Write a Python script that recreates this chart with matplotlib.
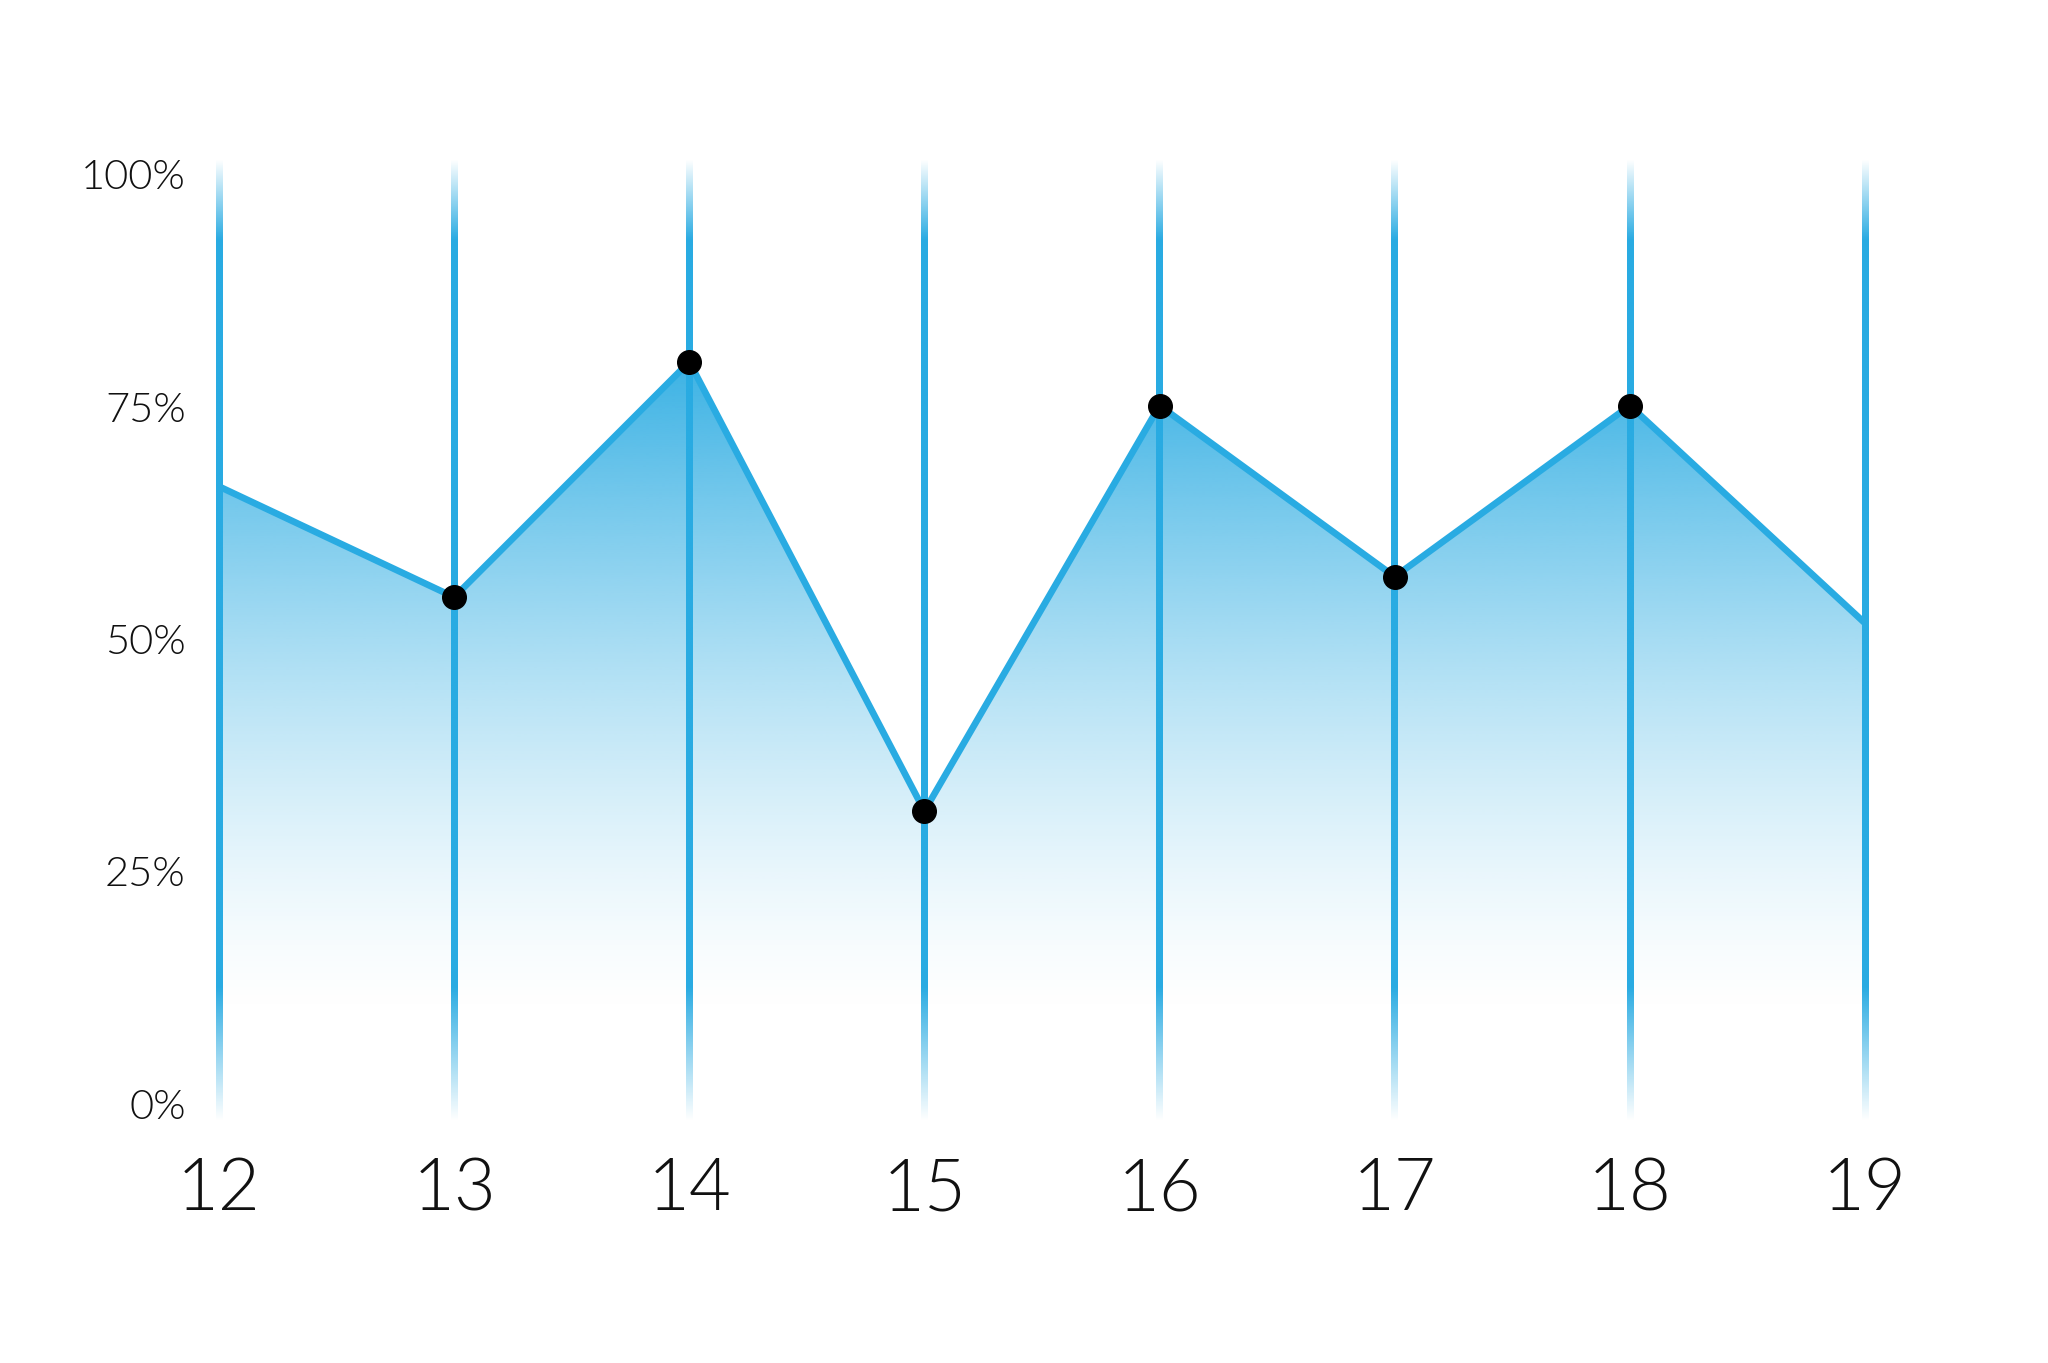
import numpy as np
import matplotlib
matplotlib.use("Agg")
import matplotlib.pyplot as plt
from matplotlib.colors import to_rgb

# ---- data ----
ages = [12, 13, 14, 15, 16, 17, 18, 19]
values = [0.664, 0.545, 0.798, 0.315, 0.751, 0.567, 0.751, 0.517]
marked = [False, True, True, True, True, True, True, False]
y_ticks = [0, 0.25, 0.5, 0.75, 1.0]
y_tick_labels = ["0%", "25%", "50%", "75%", "100%"]
x_tick_labels = ["12", "13", "14", "15", "16", "17", "18", "19"]

BLUE = "#29abe2"
rgb = np.array(to_rgb(BLUE))

plt.rcParams['font.family'] = ['Lato', 'DejaVu Sans']

W, H = 2048, 1363
fig = plt.figure(figsize=(W/100, H/100), dpi=100)
x0_px, x1_px, ytop_px, ybot_px = 219, 1865, 174, 1104
ax = fig.add_axes([x0_px/W, 1 - ybot_px/H, (x1_px-x0_px)/W, (ybot_px-ytop_px)/H])
ax.set_xlim(ages[0], ages[-1])
ax.set_ylim(0, 1)
for s in ax.spines.values():
    s.set_visible(False)

# gradient fill under the line
poly = ax.fill_between(ages, values, 0, color='none', lw=0)
ymax = max(values)
n = 512
yy = np.linspace(0, ymax, n)
t = np.clip((yy - 0.09) / (ymax - 0.09), 0, 1)
alpha = 0.92 * t ** 1.45
img = np.zeros((n, 2, 4))
img[..., :3] = rgb
img[..., 3] = alpha[:, None]
im = ax.imshow(img, extent=[ages[0], ages[-1], 0, ymax], origin='lower',
               aspect='auto', interpolation='bilinear', zorder=1)
im.set_clip_path(poly.get_paths()[0], transform=ax.transData)

# vertical fading lines (rendered as narrow gradient images)
px_per_unit = (x1_px - x0_px) / (ages[-1] - ages[0])
half_w = 3.3 / px_per_unit
y_lo, y_hi = -0.018, 1.016
vy = np.linspace(y_lo, y_hi, 600)
a_bot = np.clip((vy - y_lo) / (0.125 - y_lo), 0, 1)
a_top = np.clip((y_hi - vy) / (y_hi - 0.93), 0, 1)
va = np.minimum(a_bot, a_top)
vimg = np.zeros((len(vy), 1, 4))
vimg[..., :3] = rgb
vimg[..., 3] = va[:, None]
for x in ages:
    ax.imshow(vimg, extent=[x - half_w, x + half_w, y_lo, y_hi], origin='lower',
              aspect='auto', interpolation='bilinear', zorder=2, clip_on=False)
ax.set_xlim(ages[0], ages[-1])
ax.set_ylim(0, 1)

# main line
ax.plot(ages, values, color=BLUE, lw=4.8, zorder=3, solid_joinstyle='miter',
        clip_on=True)
mx = [a for a, m in zip(ages, marked) if m]
my = [v for v, m in zip(values, marked) if m]
ax.plot(mx, my, 'o', color='black', ms=17, zorder=4, clip_on=False)

ax.set_yticks(y_ticks)
ax.set_yticklabels(y_tick_labels, fontsize=30, color='#111111', fontweight=300)
ax.set_xticks(ages)
ax.set_xticklabels(x_tick_labels, fontsize=52, color='#111111', fontweight=300)
ax.tick_params(axis='y', length=0, pad=24)
ax.tick_params(axis='x', length=0, pad=38)

fig.savefig("out.png", dpi=100, facecolor='white')
